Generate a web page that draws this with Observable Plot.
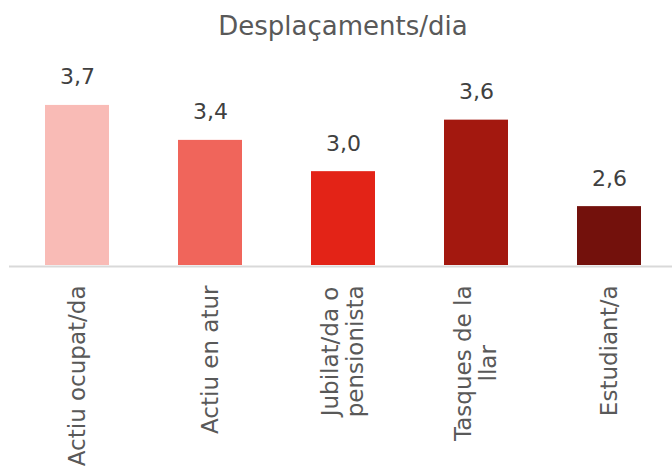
<!DOCTYPE html>
<html><head><meta charset="utf-8">
<script src="https://cdn.jsdelivr.net/npm/d3@7"></script>
<script src="https://cdn.jsdelivr.net/npm/@observablehq/plot@0.6"></script>
<style>body{margin:0;background:#fff}</style>
</head><body><div id="chart"></div>
<script>
const title = "Desplaçaments/dia";
const categories = ["Actiu ocupat/da", "Actiu en atur", "Jubilat/da o\npensionista", "Tasques de la\nllar", "Estudiant/a"];
const values = [3.74, 3.36, 3.02, 3.58, 2.64];
const colors = ["#f9bbb6", "#f0655b", "#e32317", "#a3180f", "#73110c"];
const yMin = 2;

const data = categories.map((c, i) => ({c, v: values[i], color: colors[i]}));
const fmt = v => d3.format(".1f")(v).replace(".", ",");
const FONT = "DejaVu Sans";
const labelSize = 23;
const ctx = document.createElement("canvas").getContext("2d");
ctx.font = `${labelSize}px "${FONT}"`;
const blockW = c => d3.max(c.split("\n"), l => ctx.measureText(l).width);

const chart = Plot.plot({
  width: 672, height: 471,
  marginTop: 0, marginLeft: 9, marginRight: 0, marginBottom: 0,
  style: {fontFamily: FONT, background: "#fff"},
  x: {domain: categories, range: [9, 677.75], paddingInner: 0.52, paddingOuter: 0.26, axis: null},
  y: {domain: [2, 4], range: [265, 81], axis: null},
  color: {type: "identity"},
  marks: [
    Plot.barY(data, {x: "c", y1: yMin, y2: "v", fill: "color"}),
    Plot.ruleY([yMin], {stroke: "#d9d9d9", strokeWidth: 2, dy: 1}),
    Plot.text(data, {x: "c", y: "v", text: d => fmt(d.v), lineAnchor: "bottom", dy: -21, fill: "#404040", fontSize: 22}),
    ...data.map(d => Plot.text([d], {
      x: "c", y: yMin, text: "c", rotate: -90, textAnchor: "middle", lineAnchor: "middle",
      dx: -1, dy: 20 + blockW(d.c) / 2, lineHeight: 1.1, fill: "#595959", fontSize: labelSize
    })),
    Plot.text([title], {frameAnchor: "top", dx: 2, dy: 34, lineAnchor: "bottom", fill: "#595959", fontSize: 26})
  ]
});
document.getElementById("chart").append(chart);
</script>
</body></html>
